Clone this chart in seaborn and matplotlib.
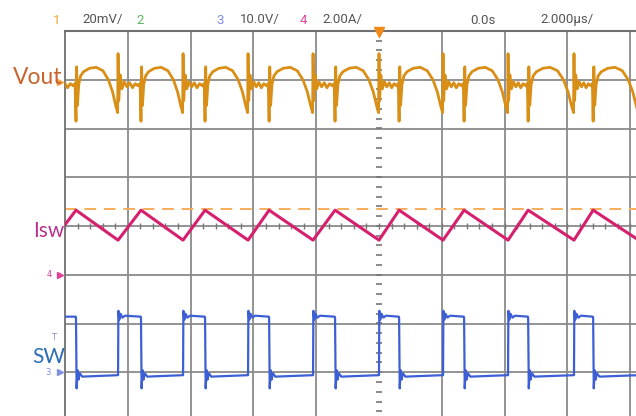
import numpy as np
import pandas as pd
import matplotlib.pyplot as plt
import seaborn as sns

# Edge times (us, trigger at 0)
sw_rise_us = [-8.31, -6.24, -4.17, -2.10, 0.00, 2.04, 4.11, 6.21, 8.27]
sw_fall_us = [-9.65, -7.58, -5.54, -3.50, -1.40, 0.64, 2.71, 4.75, 6.82]

# Inductor/switch current levels (A)
isw_start_a = 2.05
isw_peak_a = 2.65
isw_valley_a = 1.42
isw_limit_a = 2.68   # orange dashed cursor

# Switch node levels (V)
sw_high_v = 11.4
sw_low_v = -0.6
# ringing after the edges: (time after edge us, volts)
sw_rise_ring_t = [0.0, 0.01, 0.04, 0.08, 0.14, 0.22]
sw_rise_ring_v = [-0.6, 12.6, 10.8, 12.0, 11.2, 11.6]
sw_fall_ring_t = [0.0, 0.02, 0.05, 0.08, 0.12, 0.20]
sw_fall_ring_v = [11.2, -3.3, 0.4, -1.5, -0.2, -0.9]

# Output ripple (mV around marker), one cycle
# on phase: fraction of on-time after the rising edge
vout_on_frac = [0.00, 0.03, 0.09, 0.17, 0.27, 0.39, 0.51, 0.63, 0.75, 0.88, 0.96]
vout_on_mv = [10.7, -8.6, 2.0, -3.7, -0.8, -2.9, -1.2, -3.3, -1.6, -2.5, -1.5]
# off phase: fraction of off-time after the falling edge
vout_off_frac = [0.00, 0.015, 0.035, 0.065, 0.11, 0.18, 0.32, 0.48, 0.64, 0.77, 0.87, 0.95, 0.99]
vout_off_mv = [-17.0, 5.3, -10.5, -2.0, 1.6, 3.3, 4.7, 5.1, 3.7, 0.0, -5.0, -11.0, -13.5]

# scope settings: units/div and marker offset (div)
vout_scale, vout_pos = 20.0, 3.0
isw_scale, isw_pos = 2.0, -1.0
sw_scale, sw_pos = 10.0, -3.0

# ---- build traces ----
isw_t = [-10.0] + sw_fall_us + sw_rise_us
isw_v = [isw_start_a] + [isw_peak_a] * len(sw_fall_us) + [isw_valley_a] * len(sw_rise_us)
isw = pd.DataFrame({'t': isw_t, 'a': isw_v}).sort_values('t')
isw['div'] = isw_pos + isw['a'] / isw_scale

sw_t, sw_v = [-10.0], [sw_high_v]
for tf in sw_fall_us:
    sw_t += [tf - 0.01] + [tf + d for d in sw_fall_ring_t]
    sw_v += [sw_high_v] + sw_fall_ring_v
    nxt = [r for r in sw_rise_us if r > tf]
    if nxt:
        tr = nxt[0]
        sw_t += [tr - 0.01] + [tr + d for d in sw_rise_ring_t]
        sw_v += [sw_low_v] + sw_rise_ring_v
sw = pd.DataFrame({'t': sw_t, 'v': sw_v})
sw['div'] = sw_pos + sw['v'] / sw_scale

vo_t, vo_v = [], []
rises = [-10.38] + sw_rise_us
for i, tr in enumerate(rises):
    falls = [f for f in sw_fall_us if f > tr]
    if not falls:
        break
    tf = falls[0]
    vo_t += [tr + f * (tf - tr) for f in vout_on_frac]
    vo_v += vout_on_mv
    nr = rises[i + 1] if i + 1 < len(rises) else tf + 1.45
    vo_t += [tf + f * (nr - tf) for f in vout_off_frac]
    vo_v += vout_off_mv
vout = pd.DataFrame({'t': vo_t, 'mv': vo_v})
vout['div'] = vout_pos + vout['mv'] / vout_scale

# ---- figure ----
sns.set_style('white')
fig = plt.figure(figsize=(6.36, 4.16), dpi=100)
ax = fig.add_axes([65 / 636, (416 - 421) / 416, 628 / 636, 390 / 416])
ax.set_xlim(-10, 10)
ax.set_ylim(-4, 4)

grid_c = '#8a8a8a'
for x in np.arange(-8, 10, 2):
    if x != 0:
        ax.axvline(x, color=grid_c, lw=1.3, zorder=1)
for y in range(-3, 4):
    ax.axhline(y, color=grid_c, lw=1.3, zorder=1)
# minor ticks on the center axes
ax.plot(np.arange(-10, 10.01, 0.4), np.zeros(51), ls='none', marker='|',
        ms=4, color='#777777', mew=1, zorder=1)
ax.plot(np.zeros(41), np.arange(-4, 4.01, 0.2), ls='none', marker='_',
        ms=4, color='#777777', mew=1.2, zorder=1)
for s in ['right', 'bottom']:
    ax.spines[s].set_visible(False)
ax.spines['top'].set_color('#707070')
ax.spines['top'].set_linewidth(1.5)
ax.spines['left'].set_color('#7a7a7a')
ax.spines['left'].set_linewidth(1.4)
ax.set_xticks([])
ax.set_yticks([])

ax.axhline(isw_pos + isw_limit_a / isw_scale, color='#f5ad5a', lw=1.4,
           dashes=(6, 4), zorder=2)

sns.lineplot(data=vout, x='t', y='div', ax=ax, color='#d98f16', lw=2.0,
             sort=False, estimator=None, zorder=3)
sns.lineplot(data=isw, x='t', y='div', ax=ax, color='#d6206e', lw=2.2,
             sort=False, estimator=None, zorder=3)
sns.lineplot(data=sw, x='t', y='div', ax=ax, color='#3d5fd6', lw=1.6,
             sort=False, estimator=None, zorder=3)

# trigger position marker
ax.plot([0], [3.97], marker='v', ms=7, color='#f08a1a', clip_on=False, zorder=5)
# channel ground markers
ax.plot([-10.15], [vout_pos - 0.05], marker='>', ms=5, color='#f5a040', clip_on=False)
ax.plot([-10.15], [isw_pos], marker='>', ms=5, color='#e0409a', clip_on=False)
ax.plot([-10.15], [sw_pos], marker='>', ms=5, color='#8090e0', clip_on=False)
ax.text(-10.5, isw_pos, '4', color='#e0409a', fontsize=6, ha='center', va='center', clip_on=False)
ax.text(-10.55, sw_pos, '3', color='#8090e0', fontsize=6, ha='center', va='center', clip_on=False)
ax.text(-10.35, sw_pos + 0.72, 'T', color='#8090e0', fontsize=6, ha='center', va='center', clip_on=False)

# header
hy = 1 - 20 / 416
hf = dict(family='Roboto', fontsize=9.5, va='center')
fig.text(57 / 636, hy, '1', color='#f2a437', ha='center', **hf)
fig.text(82 / 636, hy, '20mV/', color='#555555', ha='left', **hf)
fig.text(140 / 636, hy, '2', color='#5cb85c', ha='center', **hf)
fig.text(220 / 636, hy, '3', color='#7d8ae6', ha='center', **hf)
fig.text(240 / 636, hy, '10.0V/', color='#555555', ha='left', **hf)
fig.text(303 / 636, hy, '4', color='#e0449c', ha='center', **hf)
fig.text(322 / 636, hy, '2.00A/', color='#555555', ha='left', **hf)
fig.text(470 / 636, hy, '0.0s', color='#555555', ha='left', **hf)
fig.text(540 / 636, hy, '2.000µs/', color='#555555', ha='left', **hf)

# channel labels
lf = dict(family='Lato', va='center', ha='left')
fig.text(13 / 636, 1 - 78 / 416, 'Vout', color='#c8642c', fontsize=16.5, **lf)
fig.text(33 / 636, 1 - 231 / 416, 'Isw', color='#b8308a', fontsize=15, **lf)
fig.text(32 / 636, 1 - 357 / 416, 'SW', color='#2c6eb4', fontsize=15, **lf)

fig.savefig('out.png', dpi=100)
